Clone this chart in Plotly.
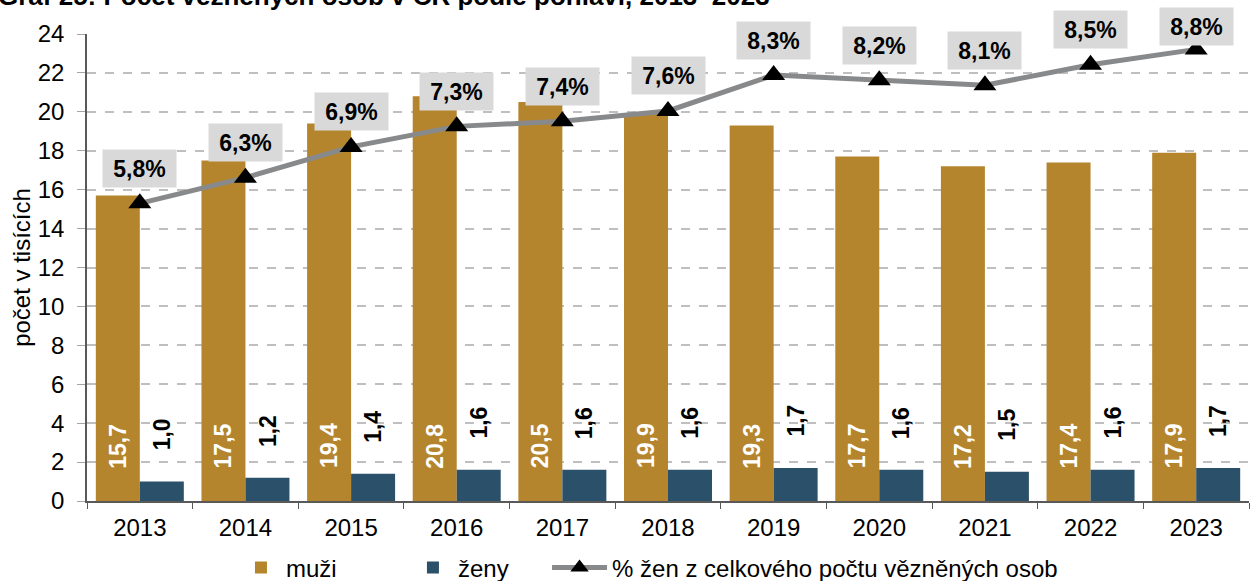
import plotly.graph_objects as go

years = ["2013", "2014", "2015", "2016", "2017", "2018", "2019", "2020", "2021", "2022", "2023"]
muzi = [15.7, 17.5, 19.4, 20.8, 20.5, 19.9, 19.3, 17.7, 17.2, 17.4, 17.9]
zeny = [1.0, 1.2, 1.4, 1.6, 1.6, 1.6, 1.7, 1.6, 1.5, 1.6, 1.7]
podil = [5.8, 6.3, 6.9, 7.3, 7.4, 7.6, 8.3, 8.2, 8.1, 8.5, 8.8]
yticks = [0, 2, 4, 6, 8, 10, 12, 14, 16, 18, 20, 22, 24]

FONT = "Liberation Sans, Arial, sans-serif"
C_M = "#B5852E"
C_Z = "#2A5169"
C_L = "#87898B"

W, H = 1250, 581
M_L, M_R, M_T, M_B = 87, 1, 34, 80
PLOT_H = H - M_T - M_B
Y2_MAX = 9.1


def cz(v, suffix=""):
    return f"{v:.1f}".replace(".", ",") + suffix


fig = go.Figure()
fig.add_trace(go.Bar(x=years, y=muzi, name="muži", legend="legend",
                     marker=dict(color=C_M, line=dict(width=0))))
fig.add_trace(go.Bar(x=years, y=zeny, name="ženy", legend="legend2",
                     marker=dict(color=C_Z, line=dict(width=0))))
fig.add_trace(go.Scatter(
    x=years, y=podil, name="% žen z celkového počtu vězněných osob", yaxis="y2",
    legend="legend3", mode="lines+markers",
    line=dict(color=C_L, width=5),
    marker=dict(symbol="triangle-up", size=20, color="black"),
))

ann = []
for i, (m, z, p) in enumerate(zip(muzi, zeny, podil)):
    ann.append(dict(x=i, y=0, xref="x", yref="y", text=f"<b>{cz(m)}</b>", textangle=-90,
                    showarrow=False, xshift=-22, yshift=55, yanchor="middle",
                    font=dict(family=FONT, size=23, color="white")))
    ann.append(dict(x=i, y=z, xref="x", yref="y", text=f"<b>{cz(z)}</b>", textangle=-90,
                    showarrow=False, xshift=22, yshift=47, yanchor="middle",
                    font=dict(family=FONT, size=23, color="black")))
    # keep the label box inside the top of the picture (as the original does)
    dist_top = (Y2_MAX - p) / Y2_MAX * PLOT_H
    shift = min(35, dist_top + 8)
    ann.append(dict(x=i, y=p, xref="x", yref="y2", text=f"<b>{cz(p, '%')}</b>",
                    showarrow=False, yshift=shift, yanchor="middle", bgcolor="#D9D9D9",
                    width=71, height=35, font=dict(family=FONT, size=23, color="black")))

ann.append(dict(x=-0.0783, y=1.045, xref="paper", yref="paper", xanchor="left", yanchor="bottom",
                text="<b>Graf 25: Počet vězněných osob v ČR podle pohlaví, 2013–2023</b>",
                showarrow=False, font=dict(family=FONT, size=26, color="black")))

leg_common = dict(orientation="h", xanchor="left", yref="container", y=0.0224, yanchor="middle",
                  font=dict(family=FONT, size=24), bgcolor="rgba(0,0,0,0)")

fig.update_layout(
    width=W, height=H,
    margin=dict(l=M_L, r=M_R, t=M_T, b=M_B),
    paper_bgcolor="white", plot_bgcolor="white",
    barmode="group", bargap=0.167, bargroupgap=0,
    font=dict(family=FONT, size=24, color="black"),
    showlegend=True,
    legend=dict(x=0.1282, itemwidth=40, **leg_common),
    legend2=dict(x=0.2762, itemwidth=40, **leg_common),
    legend3=dict(x=0.3959, itemwidth=55, **leg_common),
    xaxis=dict(type="category", range=[-0.5, len(years) - 0.5], tickson="boundaries",
               ticks="outside", ticklen=6, automargin=False, ticklabelstandoff=4,
               tickcolor="#595959", showline=True, linecolor="#595959", linewidth=1.5,
               tickfont=dict(size=24), showgrid=False),
    yaxis=dict(range=[0, 24], tickvals=yticks, ticks="outside", ticklen=8, automargin=False,
               ticklabelstandoff=8,
               tickcolor="#A6A6A6", showline=True, linecolor="#595959", linewidth=1.5,
               gridcolor="#BFBFBF", griddash="dash", gridwidth=1.5,
               tickfont=dict(size=24), zeroline=False,
               title=dict(text="počet v tisících", font=dict(size=24), standoff=0)),
    yaxis2=dict(range=[0, Y2_MAX], overlaying="y", side="right", visible=False, showgrid=False),
    annotations=ann,
)

fig.write_html("out.html", config={"displayModeBar": False},
               post_script="document.body.style.margin='0px';")
